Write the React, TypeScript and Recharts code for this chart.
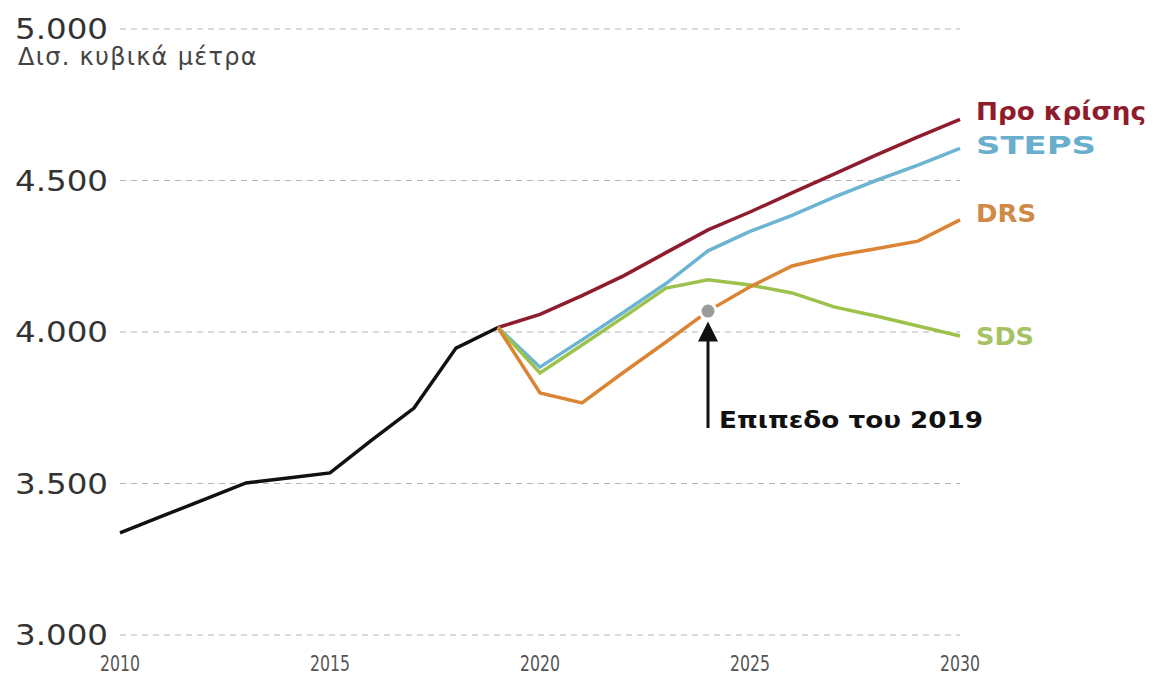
import React from "react";
import {
  LineChart,
  Line,
  XAxis,
  YAxis,
  CartesianGrid,
  ReferenceDot,
  ReferenceLine,
} from "recharts";

// ετήσια ζήτηση φυσικού αερίου, δισ. κυβικά μέτρα
const historyYears = [2010, 2011, 2012, 2013, 2014, 2015, 2016, 2017, 2018, 2019];
const history = [3337, 3392, 3447, 3502, 3518, 3535, 3644, 3749, 3947, 4015];

const scenarioYears = [2019, 2020, 2021, 2022, 2023, 2024, 2025, 2026, 2027, 2028, 2029, 2030];
const preCrisis = [4015, 4058, 4120, 4186, 4262, 4337, 4396, 4459, 4521, 4584, 4644, 4702];
const steps = [4015, 3884, 3974, 4066, 4160, 4268, 4332, 4385, 4445, 4500, 4551, 4606];
const drs = [4015, 3799, 3766, 3868, 3967, 4069, 4149, 4218, 4251, 4275, 4300, 4370];
const sds = [4015, 3865, 3957, 4050, 4145, 4172, 4155, 4129, 4083, 4053, 4020, 3987];

const xTicks = [2010, 2015, 2020, 2025, 2030];
const yTicks = [3000, 3500, 4000, 4500, 5000];

const level2019 = { year: 2024, value: 4069 };

const chartData = [...new Set([...historyYears, ...scenarioYears])].map((year) => {
  const h = historyYears.indexOf(year);
  const s = scenarioYears.indexOf(year);
  return {
    year,
    history: h >= 0 ? history[h] : null,
    preCrisis: s >= 0 ? preCrisis[s] : null,
    steps: s >= 0 ? steps[s] : null,
    drs: s >= 0 ? drs[s] : null,
    sds: s >= 0 ? sds[s] : null,
  };
});

const fmt = (v: number) => v.toLocaleString("de-DE");

const SERIES = [
  { key: "preCrisis", name: "Προ κρίσης", color: "#8f1c2c", text: "#8f1c2c", width: 170, dy: -8 },
  { key: "steps", name: "STEPS", color: "#6cb4d2", text: "#6aaecd", width: 120, dy: -3 },
  { key: "sds", name: "SDS", color: "#9cc24c", text: "#a6c265", width: 58, dy: 0 },
  { key: "drs", name: "DRS", color: "#db8434", text: "#cf8a48", width: 60, dy: -7 },
];

function YTick({ y, payload }: any) {
  return (
    <text
      x={15}
      y={y}
      dy="0.36em"
      fill="#333"
      fontSize={29}
      fontFamily="'DejaVu Sans', Verdana, sans-serif"
      textLength={93}
      lengthAdjust="spacingAndGlyphs"
    >
      {fmt(payload.value)}
    </text>
  );
}

function XTick({ x, payload }: any) {
  return (
    <text
      x={x - 20}
      y={671}
      fill="#555"
      fontSize={22}
      fontFamily="'Liberation Sans Narrow', 'DejaVu Sans Condensed', sans-serif"
      textLength={40}
      lengthAdjust="spacingAndGlyphs"
    >
      {payload.value}
    </text>
  );
}

function endLabel(s: (typeof SERIES)[number]) {
  return (props: any) => {
    const { x, y, index } = props;
    if (index !== chartData.length - 1) return <g />;
    return (
      <text
        x={x + 16}
        y={y + s.dy}
        dy="0.36em"
        fill={s.text}
        fontSize={24}
        fontWeight="bold"
        fontFamily="'DejaVu Sans', sans-serif"
        textLength={s.width}
        lengthAdjust="spacingAndGlyphs"
      >
        {s.name}
      </text>
    );
  };
}

export default function App() {
  return (
    <div style={{ position: "absolute", left: 0, top: 0, width: 1153, height: 679, background: "#fff" }}>
      <div
        style={{
          position: "absolute",
          left: 18,
          top: 44,
          fontSize: 24,
          lineHeight: "26px",
          color: "#444",
          fontFamily: "'DejaVu Sans', sans-serif",
          letterSpacing: 1.3,
          whiteSpace: "nowrap",
        }}
      >
        Δισ. κυβικά μέτρα
      </div>
      <LineChart
        width={1153}
        height={679}
        data={chartData}
        margin={{ top: 29, right: 193, left: 0, bottom: 0 }}
      >
        <CartesianGrid vertical={false} stroke="#b5b5b5" strokeDasharray="6 5" />
        <XAxis
          dataKey="year"
          type="number"
          domain={[2010, 2030]}
          ticks={xTicks}
          axisLine={false}
          tickLine={false}
          height={44}
          tick={<XTick />}
        />
        <YAxis
          domain={[3000, 5000]}
          ticks={yTicks}
          axisLine={false}
          tickLine={false}
          width={120}
          tick={<YTick />}
        />
        <Line
          dataKey="history"
          stroke="#111"
          strokeWidth={3.5}
          dot={false}
          isAnimationActive={false}
          connectNulls={false}
        />
        {SERIES.map((s) => (
          <Line
            key={s.key}
            dataKey={s.key}
            stroke={s.color}
            strokeWidth={3.5}
            dot={false}
            isAnimationActive={false}
            label={endLabel(s)}
          />
        ))}
        <ReferenceLine
          segment={[
            { x: level2019.year, y: 3683 },
            { x: level2019.year, y: 3985 },
          ]}
          stroke="#111"
          strokeWidth={3}
        />
        <ReferenceDot
          x={level2019.year}
          y={3985}
          r={1}
          shape={(p: any) => (
            <polygon
              points={`${p.cx},${p.cy - 15} ${p.cx - 10},${p.cy + 5} ${p.cx + 10},${p.cy + 5}`}
              fill="#111"
            />
          )}
        />
        <ReferenceDot
          x={level2019.year}
          y={level2019.value}
          r={8}
          fill="#9b9b9b"
          stroke="#fff"
          strokeWidth={3}
        />
        <ReferenceDot
          x={level2019.year}
          y={3683}
          r={1}
          shape={(p: any) => (
            <text
              x={p.cx + 11}
              y={p.cy}
              fill="#111"
              fontSize={23}
              fontWeight="bold"
              fontFamily="'DejaVu Sans', sans-serif"
              textLength={264}
              lengthAdjust="spacingAndGlyphs"
            >
              Επιπεδο του 2019
            </text>
          )}
        />
      </LineChart>
    </div>
  );
}
